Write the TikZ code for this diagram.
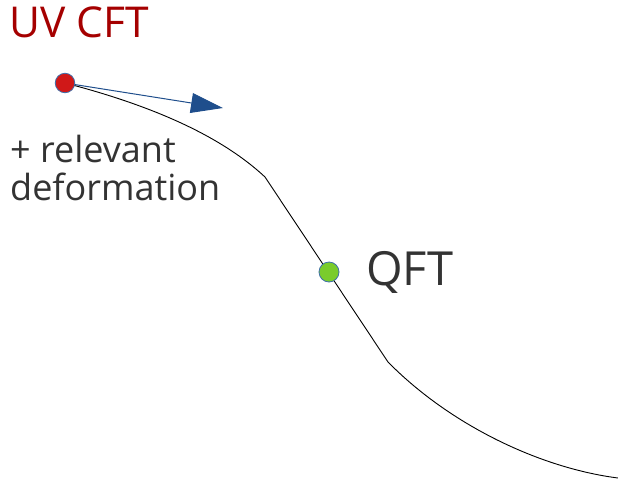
\documentclass[tikz,border=0pt]{standalone}
\usepackage{fontspec}
\setmainfont{Open Sans}
\usetikzlibrary{arrows.meta}
\definecolor{uvred}{HTML}{A50000}
\definecolor{txtgray}{HTML}{333333}
\definecolor{arrowblue}{HTML}{1F4E8C}
\definecolor{dotred}{HTML}{D01818}
\definecolor{dotgreen}{HTML}{7ACC2C}
\definecolor{dotrim}{HTML}{3F6FAA}
\tikzset{
  dot/.style={circle, minimum size=19.5pt, inner sep=0pt, draw=dotrim, line width=0.8pt},
  lbl/.style={inner sep=0pt, anchor=base west},
}
\begin{document}
\begin{tikzpicture}[x=1pt,y=-1pt]
\useasboundingbox (0,0) rectangle (618,480);
% flow curve
\coordinate (k1) at (265,177);
\coordinate (k2) at (388,362);
\coordinate (end) at (618,478);
\coordinate (start) at (65,83);
\draw[black, line width=0.9pt] (start) .. controls (150,105) and (220,135) .. (k1)
  -- (k2) .. controls (450,425) and (540,468) .. (end);
% arrow
\coordinate (tip) at (223,108);
\draw[arrowblue, line width=1pt, -{Triangle[length=32pt,width=20pt]}] (start) -- (tip);
% dots
\node[dot, fill=dotred] (uv) at (start) {};
\node[dot, fill=dotgreen, minimum size=20pt] (qft) at (329,272) {};
% labels
\node[lbl, text=uvred, font=\fontsize{42.5}{50}\selectfont] (uvlabel) at (9,37) {UV CFT};
\node[lbl, text=txtgray, font=\fontsize{36}{42}\selectfont] (rel1) at (10,162) {+ relevant};
\node[lbl, text=txtgray, font=\fontsize{36}{42}\selectfont] (rel2) at (10,200) {deformation};
\node[lbl, text=txtgray, font=\fontsize{47}{56}\selectfont] (qftlabel) at (366,285) {QFT};
\end{tikzpicture}
\end{document}
